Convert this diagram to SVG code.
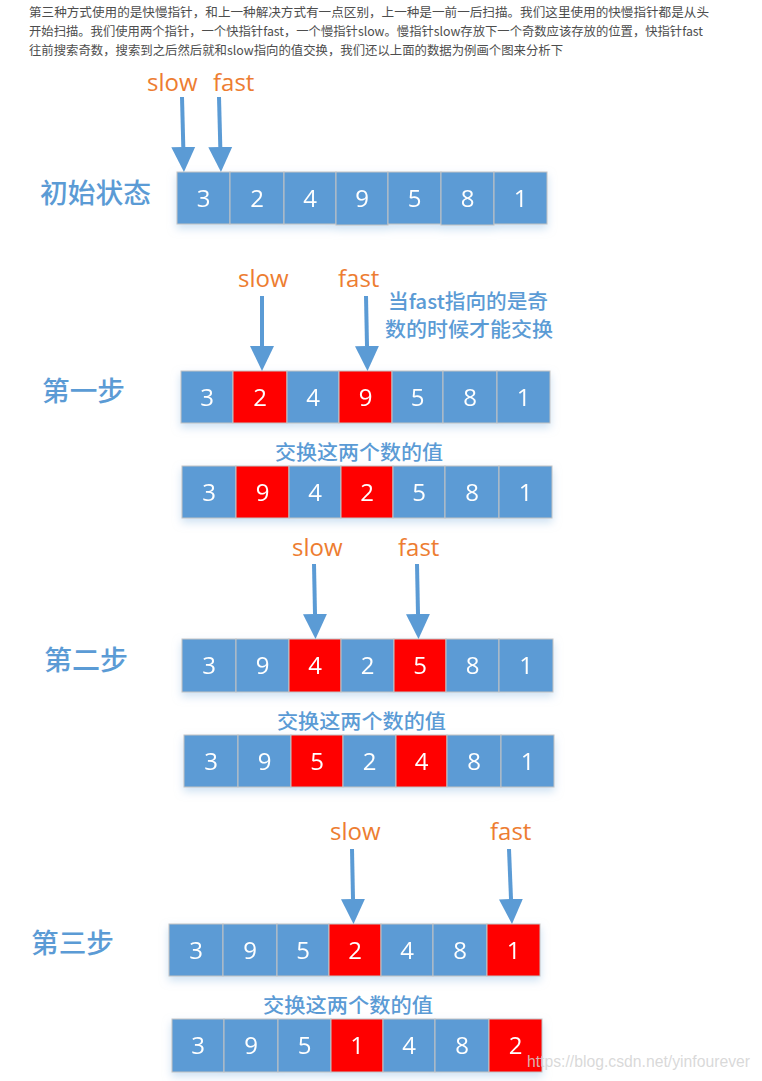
<svg xmlns="http://www.w3.org/2000/svg" width="762" height="1081" viewBox="0 0 762 1081">
<style>
.para{font-family:"Noto Sans CJK SC","Liberation Sans",sans-serif;font-size:12.5px;fill:#4d4d4d}
.cell rect{stroke:#c3c3c3;stroke-width:1}
.b{fill:#5b9bd5}
.r{fill:#ff0000}
.num{font-family:"Open Sans","Liberation Sans",sans-serif;font-size:24px;fill:#ffffff;text-anchor:middle}
.ptr{font-family:"Open Sans","Liberation Sans",sans-serif;font-size:24px;fill:#ed7d31}
.step{font-family:"Noto Sans CJK SC","Liberation Sans",sans-serif;font-size:27px;font-weight:500;fill:#5b9bd5}
.note{font-family:"Noto Sans CJK SC","Liberation Sans",sans-serif;font-size:20px;font-weight:500;fill:#5b9bd5}
.arr{stroke:#5b9bd5;stroke-width:4;fill:none;marker-end:url(#head)}
</style>
<defs>
<marker id="head" markerUnits="userSpaceOnUse" markerWidth="26" markerHeight="26" viewBox="0 -13 26 26" refX="0" refY="0" orient="auto">
<path d="M0,-12 L25,0 L0,12 Z" fill="#5b9bd5"/>
</marker>
<filter id="sh" x="-10%" y="-20%" width="120%" height="160%">
<feDropShadow dx="0" dy="4" stdDeviation="4" flood-color="#9dc3e6" flood-opacity="0.5"/>
</filter>
</defs>
<rect width="762" height="1081" fill="#ffffff"/>

<g id="intro">
<text class="para" x="29" y="17" textLength="680" lengthAdjust="spacingAndGlyphs">第三种方式使用的是快慢指针，和上一种解决方式有一点区别，上一种是一前一后扫描。我们这里使用的快慢指针都是从头</text>
<text class="para" x="29" y="36" textLength="674" lengthAdjust="spacingAndGlyphs">开始扫描。我们使用两个指针，一个快指针fast，一个慢指针slow。慢指针slow存放下一个奇数应该存放的位置，快指针fast</text>
<text class="para" x="29" y="55" textLength="534" lengthAdjust="spacingAndGlyphs">往前搜索奇数，搜索到之后然后就和slow指向的值交换，我们还以上面的数据为例画个图来分析下</text>
</g>

<g id="labels">
<text class="step" x="40" y="203" textLength="111" lengthAdjust="spacingAndGlyphs">初始状态</text>
<text class="step" x="42" y="401" textLength="83" lengthAdjust="spacingAndGlyphs">第一步</text>
<text class="step" x="44" y="670" textLength="84" lengthAdjust="spacingAndGlyphs">第二步</text>
<text class="step" x="31" y="953" textLength="83" lengthAdjust="spacingAndGlyphs">第三步</text>
<text class="note" x="388" y="309" textLength="160" lengthAdjust="spacingAndGlyphs">当fast指向的是奇</text>
<text class="note" x="385" y="337" textLength="168" lengthAdjust="spacingAndGlyphs">数的时候才能交换</text>
<text class="note" x="275" y="460" textLength="168" lengthAdjust="spacingAndGlyphs">交换这两个数的值</text>
<text class="note" x="277" y="729" textLength="169" lengthAdjust="spacingAndGlyphs">交换这两个数的值</text>
<text class="note" x="263" y="1013" textLength="170" lengthAdjust="spacingAndGlyphs">交换这两个数的值</text>
<text class="ptr" x="147" y="91">slow</text>
<text class="ptr" x="213" y="91">fast</text>
<text class="ptr" x="238" y="287">slow</text>
<text class="ptr" x="338" y="287">fast</text>
<text class="ptr" x="292" y="556">slow</text>
<text class="ptr" x="398" y="556">fast</text>
<text class="ptr" x="330" y="840">slow</text>
<text class="ptr" x="490" y="840">fast</text>
</g>

<g id="row0" filter="url(#sh)">
<g id="r0c0" class="cell"><rect class="b" x="177" y="172" width="53" height="52"/><text class="num" x="203.5" y="206.5">3</text></g>
<g id="r0c1" class="cell"><rect class="b" x="230" y="172" width="54" height="52"/><text class="num" x="257" y="206.5">2</text></g>
<g id="r0c2" class="cell"><rect class="b" x="284" y="172" width="52" height="52"/><text class="num" x="310" y="206.5">4</text></g>
<g id="r0c3" class="cell"><rect class="b" x="336" y="172" width="52" height="53"/><text class="num" x="362" y="206.5">9</text></g>
<g id="r0c4" class="cell"><rect class="b" x="388" y="172" width="53" height="52"/><text class="num" x="414.5" y="206.5">5</text></g>
<g id="r0c5" class="cell"><rect class="b" x="441" y="172" width="53" height="53"/><text class="num" x="467.5" y="206.5">8</text></g>
<g id="r0c6" class="cell"><rect class="b" x="494" y="172" width="53" height="52"/><text class="num" x="520.5" y="206.5">1</text></g>
</g>

<g id="row1" filter="url(#sh)">
<g id="r1c0" class="cell"><rect class="b" x="181" y="371" width="52" height="52"/><text class="num" x="207" y="405.5">3</text></g>
<g id="r1c1" class="cell"><rect class="r" x="233" y="371" width="54" height="52"/><text class="num" x="260" y="405.5">2</text></g>
<g id="r1c2" class="cell"><rect class="b" x="287" y="371" width="52" height="52"/><text class="num" x="313" y="405.5">4</text></g>
<g id="r1c3" class="cell"><rect class="r" x="339" y="371" width="53" height="52"/><text class="num" x="365.5" y="405.5">9</text></g>
<g id="r1c4" class="cell"><rect class="b" x="392" y="371" width="51" height="52"/><text class="num" x="417.5" y="405.5">5</text></g>
<g id="r1c5" class="cell"><rect class="b" x="443" y="371" width="54" height="52"/><text class="num" x="470" y="405.5">8</text></g>
<g id="r1c6" class="cell"><rect class="b" x="497" y="371" width="53" height="52"/><text class="num" x="523.5" y="405.5">1</text></g>
</g>

<g id="row1b" filter="url(#sh)">
<g id="r1bc0" class="cell"><rect class="b" x="182" y="466" width="54" height="52"/><text class="num" x="209" y="500.5">3</text></g>
<g id="r1bc1" class="cell"><rect class="r" x="236" y="466" width="53" height="52"/><text class="num" x="262.5" y="500.5">9</text></g>
<g id="r1bc2" class="cell"><rect class="b" x="289" y="466" width="52" height="52"/><text class="num" x="315" y="500.5">4</text></g>
<g id="r1bc3" class="cell"><rect class="r" x="341" y="466" width="52" height="52"/><text class="num" x="367" y="500.5">2</text></g>
<g id="r1bc4" class="cell"><rect class="b" x="393" y="466" width="52" height="52"/><text class="num" x="419" y="500.5">5</text></g>
<g id="r1bc5" class="cell"><rect class="b" x="445" y="466" width="54" height="52"/><text class="num" x="472" y="500.5">8</text></g>
<g id="r1bc6" class="cell"><rect class="b" x="499" y="466" width="53" height="52"/><text class="num" x="525.5" y="500.5">1</text></g>
</g>

<g id="row2" filter="url(#sh)">
<g id="r2c0" class="cell"><rect class="b" x="182" y="639" width="54" height="53"/><text class="num" x="209" y="674">3</text></g>
<g id="r2c1" class="cell"><rect class="b" x="236" y="639" width="53" height="53"/><text class="num" x="262.5" y="674">9</text></g>
<g id="r2c2" class="cell"><rect class="r" x="289" y="639" width="52" height="53"/><text class="num" x="315" y="674">4</text></g>
<g id="r2c3" class="cell"><rect class="b" x="341" y="639" width="53" height="53"/><text class="num" x="367.5" y="674">2</text></g>
<g id="r2c4" class="cell"><rect class="r" x="394" y="639" width="52" height="53"/><text class="num" x="420" y="674">5</text></g>
<g id="r2c5" class="cell"><rect class="b" x="446" y="639" width="53" height="53"/><text class="num" x="472.5" y="674">8</text></g>
<g id="r2c6" class="cell"><rect class="b" x="499" y="639" width="54" height="53"/><text class="num" x="526" y="674">1</text></g>
</g>

<g id="row2b" filter="url(#sh)">
<g id="r2bc0" class="cell"><rect class="b" x="184" y="735" width="54" height="52"/><text class="num" x="211" y="769.5">3</text></g>
<g id="r2bc1" class="cell"><rect class="b" x="238" y="735" width="53" height="52"/><text class="num" x="264.5" y="769.5">9</text></g>
<g id="r2bc2" class="cell"><rect class="r" x="291" y="735" width="52" height="52"/><text class="num" x="317" y="769.5">5</text></g>
<g id="r2bc3" class="cell"><rect class="b" x="343" y="735" width="53" height="52"/><text class="num" x="369.5" y="769.5">2</text></g>
<g id="r2bc4" class="cell"><rect class="r" x="396" y="735" width="51" height="52"/><text class="num" x="421.5" y="769.5">4</text></g>
<g id="r2bc5" class="cell"><rect class="b" x="447" y="735" width="54" height="52"/><text class="num" x="474" y="769.5">8</text></g>
<g id="r2bc6" class="cell"><rect class="b" x="501" y="735" width="53" height="52"/><text class="num" x="527.5" y="769.5">1</text></g>
</g>

<g id="row3" filter="url(#sh)">
<g id="r3c0" class="cell"><rect class="b" x="169" y="924" width="54" height="52"/><text class="num" x="196" y="958.5">3</text></g>
<g id="r3c1" class="cell"><rect class="b" x="223" y="924" width="54" height="52"/><text class="num" x="250" y="958.5">9</text></g>
<g id="r3c2" class="cell"><rect class="b" x="277" y="924" width="52" height="52"/><text class="num" x="303" y="958.5">5</text></g>
<g id="r3c3" class="cell"><rect class="r" x="329" y="924" width="52" height="52"/><text class="num" x="355" y="958.5">2</text></g>
<g id="r3c4" class="cell"><rect class="b" x="381" y="924" width="52" height="52"/><text class="num" x="407" y="958.5">4</text></g>
<g id="r3c5" class="cell"><rect class="b" x="433" y="924" width="54" height="52"/><text class="num" x="460" y="958.5">8</text></g>
<g id="r3c6" class="cell"><rect class="r" x="487" y="924" width="53" height="52"/><text class="num" x="513.5" y="958.5">1</text></g>
</g>

<g id="row3b" filter="url(#sh)">
<g id="r3bc0" class="cell"><rect class="b" x="172" y="1019" width="52" height="53"/><text class="num" x="198" y="1054">3</text></g>
<g id="r3bc1" class="cell"><rect class="b" x="224" y="1019" width="54" height="53"/><text class="num" x="251" y="1054">9</text></g>
<g id="r3bc2" class="cell"><rect class="b" x="278" y="1019" width="53" height="53"/><text class="num" x="304.5" y="1054">5</text></g>
<g id="r3bc3" class="cell"><rect class="r" x="331" y="1019" width="52" height="53"/><text class="num" x="357" y="1054">1</text></g>
<g id="r3bc4" class="cell"><rect class="b" x="383" y="1019" width="52" height="53"/><text class="num" x="409" y="1054">4</text></g>
<g id="r3bc5" class="cell"><rect class="b" x="435" y="1019" width="54" height="53"/><text class="num" x="462" y="1054">8</text></g>
<g id="r3bc6" class="cell"><rect class="r" x="489" y="1019" width="53" height="53"/><text class="num" x="515.5" y="1054">2</text></g>
</g>

<g id="connectors">
<line class="arr" x1="182" y1="97" x2="183.3" y2="147"/>
<line class="arr" x1="219" y1="97" x2="220.3" y2="147"/>
<line class="arr" x1="262" y1="296" x2="262" y2="346"/>
<line class="arr" x1="366" y1="296" x2="367" y2="346"/>
<line class="arr" x1="314" y1="564" x2="315" y2="614"/>
<line class="arr" x1="417" y1="564" x2="418" y2="614"/>
<line class="arr" x1="352" y1="849" x2="353" y2="899"/>
<line class="arr" x1="509" y1="849" x2="511" y2="899"/>
</g>

<text x="527" y="1067" font-family="Liberation Sans, Arial, sans-serif" font-size="17" fill="#d2d2d2" fill-opacity="0.85" textLength="223" lengthAdjust="spacingAndGlyphs">https://blog.csdn.net/yinfourever</text>
</svg>
